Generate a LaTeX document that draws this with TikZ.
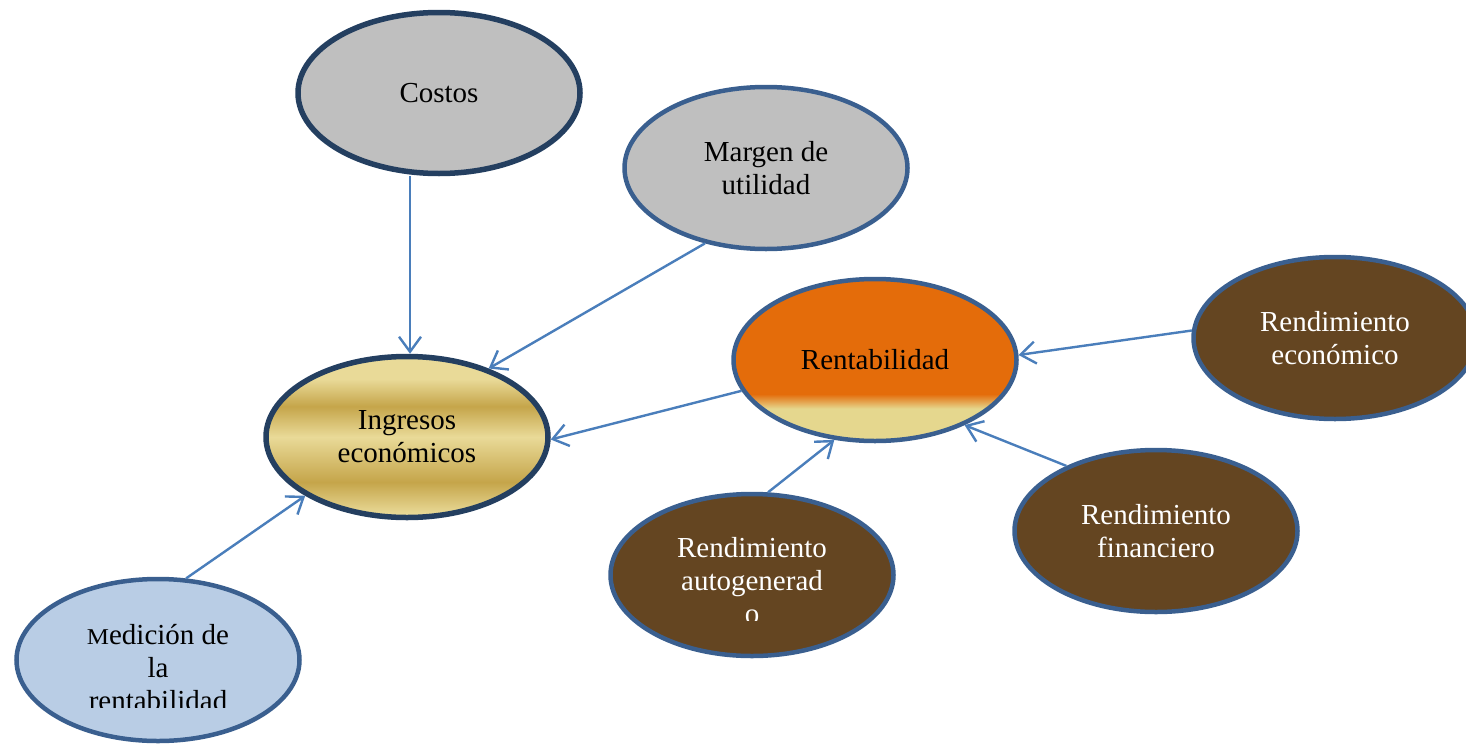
\documentclass[tikz,border=0pt]{standalone}
\usepackage{fontspec}
\setmainfont{Liberation Serif}
\usetikzlibrary{shapes.geometric,arrows.meta}
\definecolor{bgray}{HTML}{BFBFBF}
\definecolor{lblue}{HTML}{B9CDE5}
\definecolor{bbrown}{HTML}{644521}
\definecolor{borange}{HTML}{E46C0A}
\definecolor{byel}{HTML}{E5D78E}
\definecolor{goldL}{HTML}{E9DA98}
\definecolor{goldD}{HTML}{C5A54A}
\definecolor{bordD}{HTML}{243F60}
\definecolor{bordB}{HTML}{3A5F8F}
\definecolor{arrowB}{HTML}{4A7EBB}
\pgfdeclareverticalshading{goldband}{100bp}{color(0bp)=(goldL); color(26bp)=(goldL); color(36bp)=(goldD); color(50bp)=(goldL); color(59.5bp)=(goldD); color(68bp)=(goldL); color(100bp)=(goldL)}
\pgfdeclareverticalshading{rentband}{100bp}{color(0bp)=(byel); color(35bp)=(byel); color(39.5bp)=(borange); color(100bp)=(borange)}
\begin{document}
\begin{tikzpicture}[x=1pt,y=-1pt,
  bubble/.style={ellipse, draw=bordB, line width=4.5pt, inner sep=0pt, align=center,
    font=\fontsize{29}{33}\selectfont, minimum width=283pt, minimum height=162pt},
  darkbub/.style={bubble, draw=bordD, line width=5.5pt, minimum width=282pt, minimum height=161pt},
  btext/.style={align=center, font=\fontsize{29}{33}\selectfont, inner sep=0pt},
  conn/.style={draw=arrowB, line width=2.4pt, -{Straight Barb[length=15pt,width=22pt,line width=2.4pt]}}]
\useasboundingbox (0,0) rectangle (1466,744);
\clip (0,0) rectangle (1466,744);

\node[darkbub, fill=bgray] (costos) at (439,93) {Costos};
\node[bubble, fill=bgray] (margen) at (766,168) {Margen de\\utilidad};
\node[darkbub, shading=goldband] (ingresos) at (407,437) {Ingresos\\económicos};
\node[bubble, shading=rentband] (rent) at (875,360) {Rentabilidad};
\node[bubble, fill=bbrown, text=white] (reco) at (1335,338) {Rendimiento\\económico};
\node[bubble, fill=bbrown, text=white] (refin) at (1156,531) {Rendimiento\\financiero};
\node[bubble, fill=bbrown] (reauto) at (752,575) {};
\node[bubble, fill=lblue] (medi) at (158,660) {};

\begin{scope}
  \clip (600,500) rectangle (900,620);
  \node[btext, text=white, anchor=base] (tauto) at (752,623) {Rendimiento\\autogenerad\\o};
\end{scope}
\begin{scope}
  \clip (10,590) rectangle (310,707);
  \node[btext, anchor=base] (tmedi) at (158,710) {\scalebox{0.86}[0.78]{M}edición de\\la\\rentabilidad};
\end{scope}

\draw[conn] ([xshift=-29pt]costos.south) -- ([xshift=3pt]ingresos.north);
\draw[conn] (margen.231.7) -- (ingresos.40.1);
\draw[conn] (rent.193.3) -- (ingresos.-1.2);
\draw[conn] (medi.71.4) -- (ingresos.210.4);
\draw[conn] (reauto.79.1) -- (rent.243.2);
\draw[conn] (refin.144.9) -- (rent.-36.5);
\draw[conn] (reco.177.7) -- (rent.2.5);
\end{tikzpicture}
\end{document}
